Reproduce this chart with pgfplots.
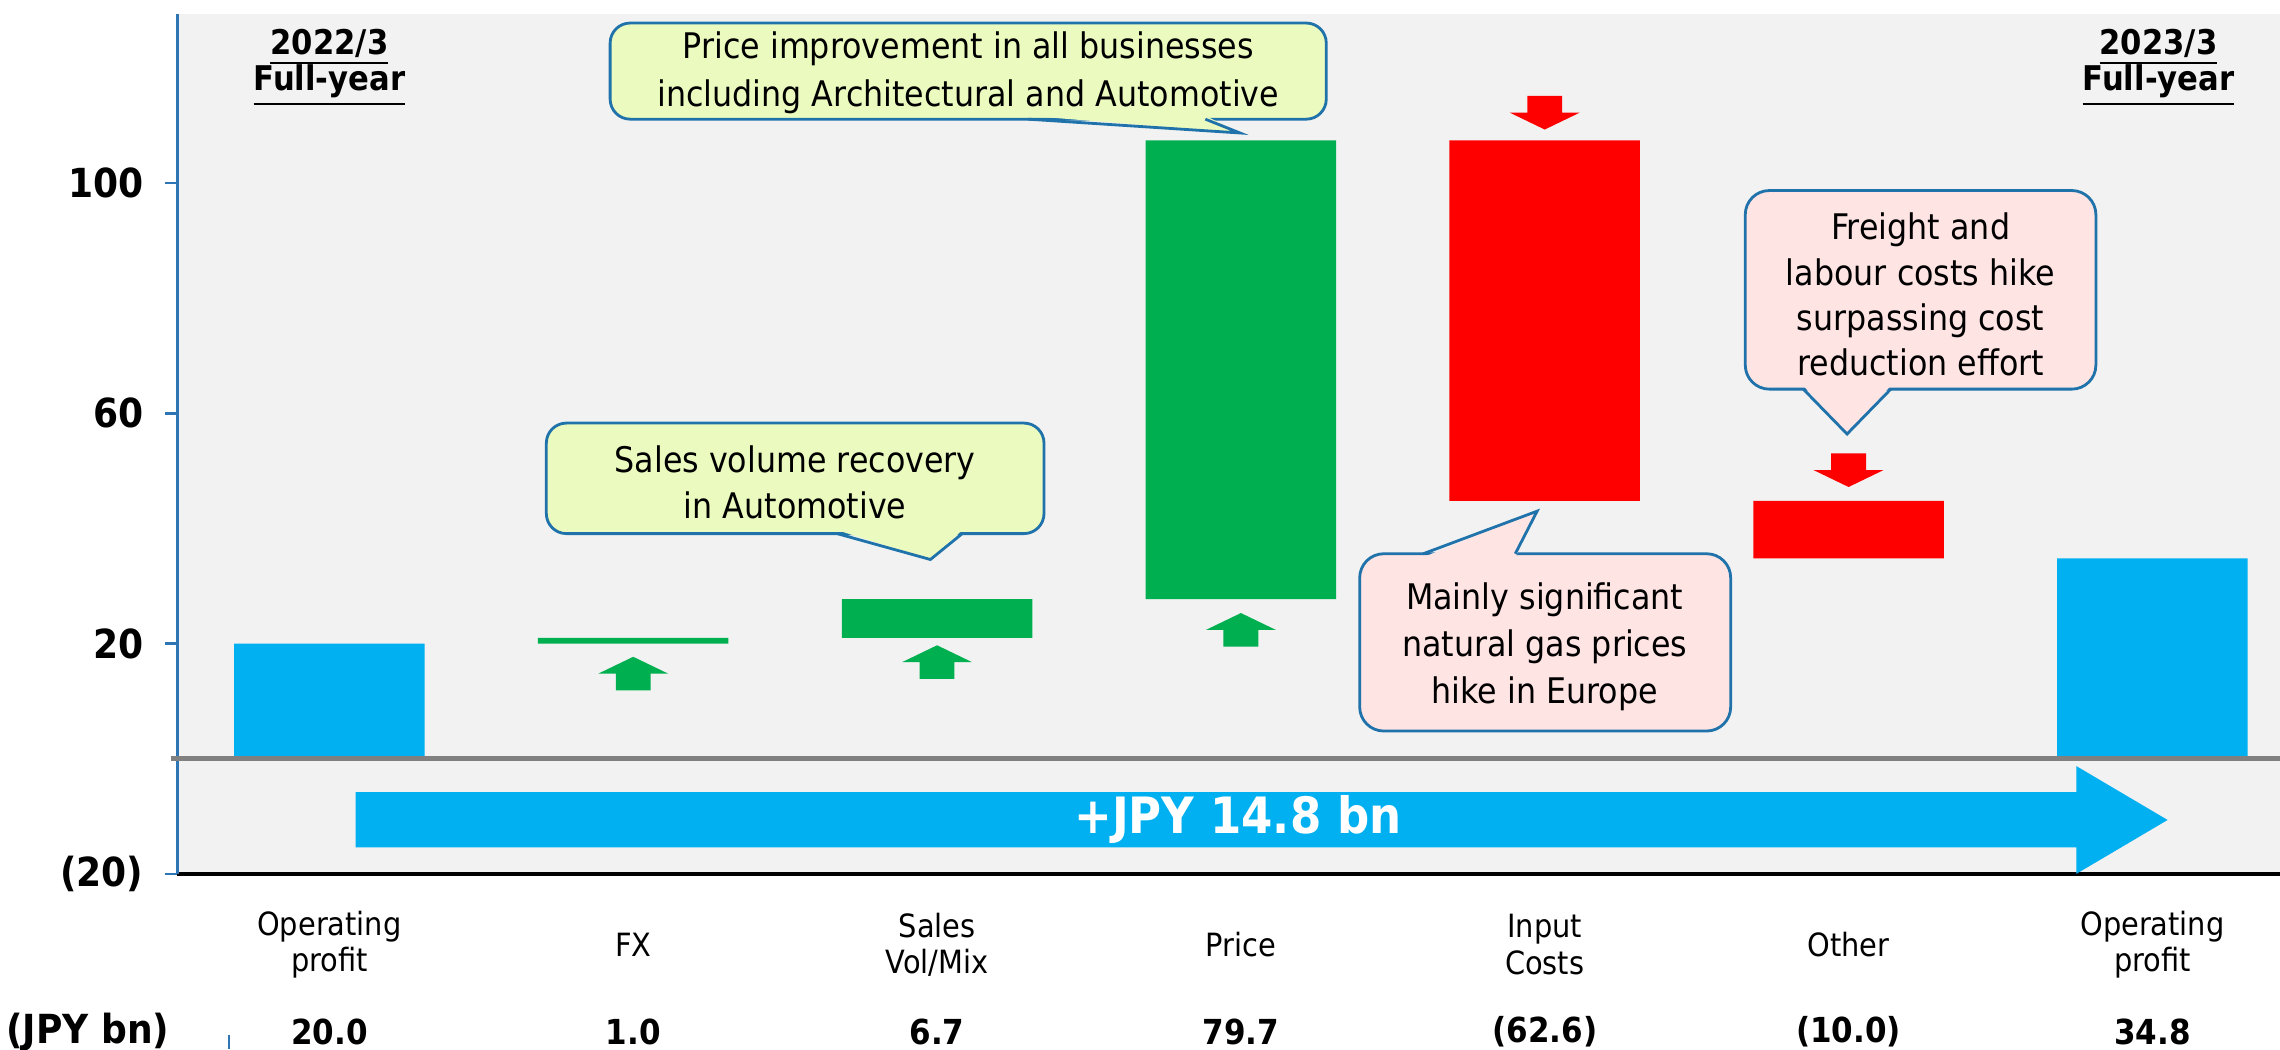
\documentclass[border=0pt]{standalone}
\usepackage{fontspec}
\setmainfont{DejaVu Sans}[FakeStretch=0.9]
\usepackage{pgfplots}
\pgfplotsset{compat=1.18}

\definecolor{bggray}{HTML}{F2F2F2}
\definecolor{barblue}{HTML}{00B0F0}
\definecolor{bargreen}{HTML}{00B050}
\definecolor{barred}{HTML}{FF0000}
\definecolor{axisblue}{HTML}{2E75B6}
\definecolor{callborder}{HTML}{1F72AA}
\definecolor{yellowfill}{HTML}{EBFBBF}
\definecolor{pinkfill}{HTML}{FFE4E4}
\definecolor{zerogray}{HTML}{808080}

\newcommand{\cfont}{\fontsize{8.8}{11.3}\selectfont}
\newcommand{\ul}[1]{\raisebox{0pt}[\height][0pt]{\underline{#1}}}
\newcommand{\greenup}[2]{\fill[bargreen] (axis cs:#1,#2) -- ++(8.7pt,-4.2pt) -- ++(-4.35pt,0pt) -- ++(0pt,-4.2pt) -- ++(-8.7pt,0pt) -- ++(0pt,4.2pt) -- ++(-4.35pt,0pt) -- cycle;}
\newcommand{\reddown}[2]{\fill[barred] (axis cs:#1,#2) -- ++(8.7pt,4.2pt) -- ++(-4.35pt,0pt) -- ++(0pt,4.2pt) -- ++(-8.7pt,0pt) -- ++(0pt,-4.2pt) -- ++(-4.35pt,0pt) -- cycle;}

\begin{document}
\begin{tikzpicture}
\begin{axis}[
  scale only axis, width=524.8pt, height=214.5pt,
  xmin=-0.5, xmax=6.42, ymin=-20, ymax=129.3,
  axis x line*=bottom, axis y line*=left,
  x axis line style={-, black, line width=1pt},
  y axis line style={-, draw=axisblue, line width=0.6pt},
  axis background/.style={fill=bggray},
  xtick=\empty,
  ytick={-20,20,60,100}, yticklabels={(20),20,60,100},
  tick align=outside, major tick length=3pt,
  ytick style={draw=axisblue, line width=0.6pt},
  yticklabel style={font=\fontsize{10}{12}\selectfont\bfseries, xshift=-2pt},
  ybar stacked, bar width=0.627,
  reverse stacked plots=false,
  clip=false,
]
% waterfall: invisible base + visible segments
\addplot[fill=none, draw=none] coordinates {(0,0) (1,20) (2,21) (3,27.7) (4,44.8) (5,34.8) (6,0)};
\addplot[fill=barblue, draw=none] coordinates {(0,20) (1,0) (2,0) (3,0) (4,0) (5,0) (6,34.8)};
\addplot[fill=bargreen, draw=none] coordinates {(0,0) (1,1) (2,6.7) (3,79.7) (4,0) (5,0) (6,0)};
\addplot[fill=barred, draw=none] coordinates {(0,0) (1,0) (2,0) (3,0) (4,62.6) (5,10) (6,0)};

% zero line
\draw[zerogray, line width=1.2pt] (axis cs:-0.52,0) -- (axis cs:6.42,0);

% small arrows
\greenup{1}{17.7}
\greenup{2}{19.7}
\greenup{3}{25.3}
\reddown{4}{109.3}
\reddown{5}{47.2}

% big arrow with its text
\fill[barblue] (axis cs:0.086,-5.8) -- (axis cs:5.75,-5.8) -- (axis cs:5.75,-1.3) -- (axis cs:6.05,-10.65) -- (axis cs:5.75,-20) -- (axis cs:5.75,-15.4) -- (axis cs:0.086,-15.4) -- cycle;
\node[text=white, font=\fontsize{12.5}{14}\selectfont\bfseries] at (axis cs:2.99,-10.6) {+JPY 14.8 bn};

% headers
\node[align=center, font=\fontsize{8.5}{9.1}\selectfont\bfseries] at (axis cs:0,121.4) {\ul{2022/3}\\\ul{Full-year}};
\node[align=center, font=\fontsize{8.5}{9.1}\selectfont\bfseries] at (axis cs:6.02,121.4) {\ul{2023/3}\\\ul{Full-year}};

% callout 1: price
\draw[draw=callborder, fill=yellowfill, rounded corners=5pt, line width=0.7pt] (axis cs:0.924,111.1) rectangle (axis cs:3.281,127.8);
\fill[yellowfill] (axis cs:2.299,111.7) -- (axis cs:2.997,108.7) -- (axis cs:2.883,111.7) -- cycle;
\draw[draw=callborder, line width=0.7pt] (axis cs:2.299,111.1) -- (axis cs:2.997,108.7) -- (axis cs:2.883,111.1);
\node[text=black, align=center, font=\fontsize{8.8}{12}\selectfont] at (axis cs:2.1025,119.2) {Price improvement in all businesses\\including Architectural and Automotive};

% callout 2: sales
\draw[draw=callborder, fill=yellowfill, rounded corners=5pt, line width=0.7pt] (axis cs:0.714,39.1) rectangle (axis cs:2.352,58.3);
\fill[yellowfill] (axis cs:1.671,39.7) -- (axis cs:1.978,34.6) -- (axis cs:2.083,39.7) -- cycle;
\draw[draw=callborder, line width=0.7pt] (axis cs:1.671,39.1) -- (axis cs:1.978,34.6) -- (axis cs:2.083,39.1);
\node[text=black, align=center, font=\cfont] at (axis cs:1.533,48.0) {Sales volume recovery\\in Automotive};

% callout 3: natural gas
\draw[draw=callborder, fill=pinkfill, rounded corners=6pt, line width=0.7pt] (axis cs:3.391,4.8) rectangle (axis cs:4.612,35.6);
\fill[pinkfill] (axis cs:3.60,35.0) -- (axis cs:3.975,43.0) -- (axis cs:3.903,35.0) -- cycle;
\draw[draw=callborder, line width=0.7pt] (axis cs:3.60,35.6) -- (axis cs:3.975,43.0) -- (axis cs:3.903,35.6);
\node[text=black, align=center, font=\fontsize{8.8}{11.8}\selectfont] at (axis cs:4.0,19.4) {Mainly significant\\natural gas prices\\hike in Europe};

% callout 4: freight
\draw[draw=callborder, fill=pinkfill, rounded corners=6pt, line width=0.7pt] (axis cs:4.66,64.2) rectangle (axis cs:5.814,98.7);
\fill[pinkfill] (axis cs:4.851,64.8) -- (axis cs:4.995,56.4) -- (axis cs:5.139,64.8) -- cycle;
\draw[draw=callborder, line width=0.7pt] (axis cs:4.851,64.2) -- (axis cs:4.995,56.4) -- (axis cs:5.139,64.2);
\node[text=black, align=center, font=\cfont] at (axis cs:5.237,80.6) {Freight and\\labour costs hike\\surpassing cost\\reduction effort};

% category labels
\node[align=center, font=\fontsize{8}{9.1}\selectfont] at (axis cs:0,-32.3) {Operating\\profit};
\node[align=center, font=\fontsize{8}{9.1}\selectfont] at (axis cs:1,-32.3) {FX};
\node[align=center, font=\fontsize{8}{9.1}\selectfont] at (axis cs:2,-32.3) {Sales\\Vol/Mix};
\node[align=center, font=\fontsize{8}{9.1}\selectfont] at (axis cs:3,-32.3) {Price};
\node[align=center, font=\fontsize{8}{9.1}\selectfont] at (axis cs:4,-32.3) {Input\\Costs};
\node[align=center, font=\fontsize{8}{9.1}\selectfont] at (axis cs:5,-32.3) {Other};
\node[align=center, font=\fontsize{8}{9.1}\selectfont] at (axis cs:6,-32.3) {Operating\\profit};

% value row
\node[font=\fontsize{10}{12}\selectfont\bfseries] at (axis cs:-0.795,-47.5) {(JPY bn)};
\node[font=\fontsize{8.6}{10}\selectfont\bfseries] at (axis cs:0,-47.5) {20.0};
\node[font=\fontsize{8.6}{10}\selectfont\bfseries] at (axis cs:1,-47.5) {1.0};
\node[font=\fontsize{8.6}{10}\selectfont\bfseries] at (axis cs:2,-47.5) {6.7};
\node[font=\fontsize{8.6}{10}\selectfont\bfseries] at (axis cs:3,-47.5) {79.7};
\node[font=\fontsize{8.6}{10}\selectfont\bfseries] at (axis cs:4,-47.5) {(62.6)};
\node[font=\fontsize{8.6}{10}\selectfont\bfseries] at (axis cs:5,-47.5) {(10.0)};
\node[font=\fontsize{8.6}{10}\selectfont\bfseries] at (axis cs:6,-47.5) {34.8};
\draw[axisblue, line width=0.6pt] (axis cs:-0.33,-48) -- (axis cs:-0.33,-50.5);
\end{axis}
\pgfresetboundingbox
\path[use as bounding box] (current axis.south west) ++(-44.3pt,-43.9pt) rectangle ([yshift=3.6pt]current axis.north east);
\end{tikzpicture}
\end{document}
